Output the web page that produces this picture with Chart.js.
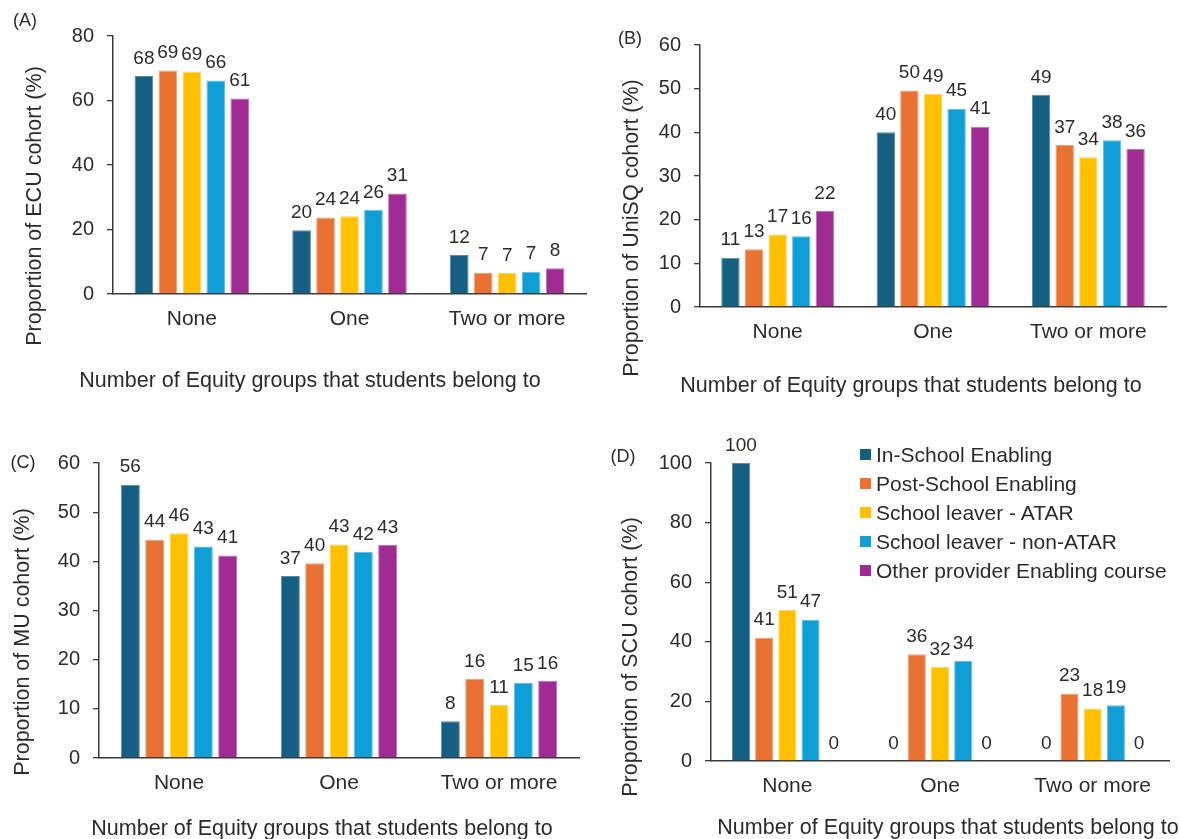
<!DOCTYPE html>
<html>
<head>
<meta charset="utf-8">
<script src="https://cdn.jsdelivr.net/npm/chart.js@4.4.1/dist/chart.umd.min.js"></script>
<style>
  html, body { margin: 0; padding: 0; background: #ffffff; }
  body { width: 1180px; height: 839px; position: relative; overflow: hidden;
         font-family: "Liberation Sans", Arial, sans-serif; color: #2b2b2b; }
  canvas { position: absolute; }
  .t { position: absolute; white-space: nowrap; transform: translate(-50%, -50%); }
  .yt { position: absolute; white-space: nowrap; transform: translate(-50%, -50%) rotate(-90deg); font-size: 21.5px; }
  .xt { font-size: 21.5px; }
  .pl { font-size: 18px; }
  .leg { position: absolute; left: 860px; font-size: 21px; white-space: nowrap; }
  .leg span.sw { display: inline-block; width: 11px; height: 11px; vertical-align: middle; margin-right: 5px; position: relative; top: -2px; }
</style>
</head>
<body>
<canvas id="cA" width="590" height="420" style="left:0;top:0"></canvas>
<canvas id="cB" width="590" height="420" style="left:590px;top:0"></canvas>
<canvas id="cC" width="590" height="419" style="left:0;top:420px"></canvas>
<canvas id="cD" width="590" height="419" style="left:590px;top:420px"></canvas>

<div class="t pl" style="left:25px;top:20px">(A)</div>
<div class="t pl" style="left:630px;top:38px">(B)</div>
<div class="t pl" style="left:23px;top:462px">(C)</div>
<div class="t pl" style="left:623px;top:456px">(D)</div>

<div class="yt" style="left:34px;top:206px">Proportion of ECU cohort (%)</div>
<div class="yt" style="left:631px;top:228px">Proportion of UniSQ cohort (%)</div>
<div class="yt" style="left:22px;top:642px">Proportion of MU cohort (%)</div>
<div class="yt" style="left:630px;top:657px">Proportion of SCU cohort (%)</div>

<div class="t xt" style="left:310px;top:380px">Number of Equity groups that students belong to</div>
<div class="t xt" style="left:911px;top:385px">Number of Equity groups that students belong to</div>
<div class="t xt" style="left:322px;top:828px">Number of Equity groups that students belong to</div>
<div class="t xt" style="left:948px;top:827px">Number of Equity groups that students belong to</div>

<div id="legend"></div>

<script>
// ---------- DATA ----------
const categories = ['None', 'One', 'Two or more'];
const seriesLabels = ['In-School Enabling', 'Post-School Enabling', 'School leaver - ATAR', 'School leaver - non-ATAR', 'Other provider Enabling course'];

// (A) ECU
const ecuInSchool  = [67.6, 19.8, 12.1];
const ecuPostSchool = [69.3, 23.7, 6.6];
const ecuAtar      = [68.8, 24.1, 6.5];
const ecuNonAtar   = [66.2, 26.1, 6.9];
const ecuOther     = [60.6, 31.2, 8.0];

// (B) UniSQ
const unisqInSchool  = [11.3, 40.0, 48.6];
const unisqPostSchool = [13.2, 49.6, 37.1];
const unisqAtar      = [16.6, 48.8, 34.3];
const unisqNonAtar   = [16.2, 45.4, 38.2];
const unisqOther     = [22.0, 41.3, 36.2];

// (C) MU
const muInSchool  = [55.6, 37.0, 7.5];
const muPostSchool = [44.4, 39.6, 16.1];
const muAtar      = [45.7, 43.4, 10.8];
const muNonAtar   = [43.0, 41.9, 15.3];
const muOther     = [41.2, 43.3, 15.7];

// (D) SCU
const scuInSchool  = [100, 0, 0];
const scuPostSchool = [41.4, 35.8, 22.6];
const scuAtar      = [50.7, 31.6, 17.6];
const scuNonAtar   = [47.4, 33.6, 18.7];
const scuOther     = [0, 0, 0];

// y-axis tick values per panel
const ecuTicks = [0, 20, 40, 60, 80];
const unisqTicks = [0, 10, 20, 30, 40, 50, 60];
const muTicks = [0, 10, 20, 30, 40, 50, 60];
const scuTicks = [0, 20, 40, 60, 80, 100];

// ---------- STYLE ----------
const seriesColors = ['#155F82', '#E97132', '#FFC000', '#0F9ED5', '#A02B93'];
const seriesEdges  = ['#5a8aa3', '#f1a077', '#ffd55c', '#5fbee5', '#c070b5'];
const FONT = '"Liberation Sans", Arial, sans-serif';
const TXT = '#2b2b2b';
const AX = '#3a3a3a';

const valueLabels = {
  id: 'valueLabels',
  afterDatasetsDraw(chart) {
    const ctx = chart.ctx;
    ctx.save();
    ctx.font = '19px ' + FONT;
    ctx.fillStyle = TXT;
    ctx.textAlign = 'center';
    ctx.textBaseline = 'middle';
    chart.data.datasets.forEach((ds, i) => {
      const meta = chart.getDatasetMeta(i);
      meta.data.forEach((bar, j) => {
        ctx.fillText(String(Math.round(ds.data[j])), bar.x, bar.y - 17.5);
      });
    });
    ctx.restore();
  }
};

function makeChart(id, seriesData, ticks, geom) {
  const yMax = ticks[ticks.length - 1];
  const step = ticks[1] - ticks[0];
  const el = document.getElementById(id);
  return new Chart(el, {
    type: 'bar',
    data: {
      labels: categories,
      datasets: seriesData.map((d, i) => ({
        label: seriesLabels[i],
        data: d,
        backgroundColor: seriesColors[i],
        borderColor: seriesEdges[i],
        borderWidth: { top: 1, left: 1, right: 1, bottom: 0 },
        barPercentage: 0.78,
        categoryPercentage: 0.76
      }))
    },
    options: {
      responsive: false,
      animation: false,
      devicePixelRatio: 1,
      layout: { padding: { left: 0, top: geom.top, right: geom.right, bottom: 0 } },
      plugins: { legend: { display: false }, tooltip: { enabled: false } },
      scales: {
        x: {
          ticks: { padding: 13, color: TXT, font: { size: 21, family: FONT } },
          grid: { display: false, drawTicks: false },
          border: { display: true, color: AX, width: 1.5 },
          afterFit(s) { s.height = geom.xh; }
        },
        y: {
          min: 0, max: yMax,
          ticks: { stepSize: step, padding: 13, color: TXT, font: { size: 20, family: FONT } },
          grid: { display: true, drawOnChartArea: false, drawTicks: true, tickLength: 6, color: AX, lineWidth: 1.3 },
          border: { display: true, color: AX, width: 1.5 },
          afterFit(s) { s.width = geom.left; }
        }
      }
    },
    plugins: [valueLabels]
  });
}

makeChart('cA', [ecuInSchool, ecuPostSchool, ecuAtar, ecuNonAtar, ecuOther], ecuTicks,
  { left: 113, top: 36, right: 4, xh: 126 });
makeChart('cB', [unisqInSchool, unisqPostSchool, unisqAtar, unisqNonAtar, unisqOther], unisqTicks,
  { left: 110, top: 45, right: 14, xh: 113 });
makeChart('cC', [muInSchool, muPostSchool, muAtar, muNonAtar, muOther], muTicks,
  { left: 99, top: 43, right: 11, xh: 81 });
makeChart('cD', [scuInSchool, scuPostSchool, scuAtar, scuNonAtar, scuOther], scuTicks,
  { left: 121, top: 43, right: 11, xh: 78 });

// legend for panel D
const legendRowsY = [455, 484, 513, 542, 571];
const leg = document.getElementById('legend');
seriesLabels.forEach((lab, i) => {
  const row = document.createElement('div');
  row.className = 'leg';
  row.style.top = (legendRowsY[i] - 12) + 'px';
  row.innerHTML = '<span class="sw" style="background:' + seriesColors[i] + '"></span>' + lab;
  leg.appendChild(row);
});
</script>
</body>
</html>
